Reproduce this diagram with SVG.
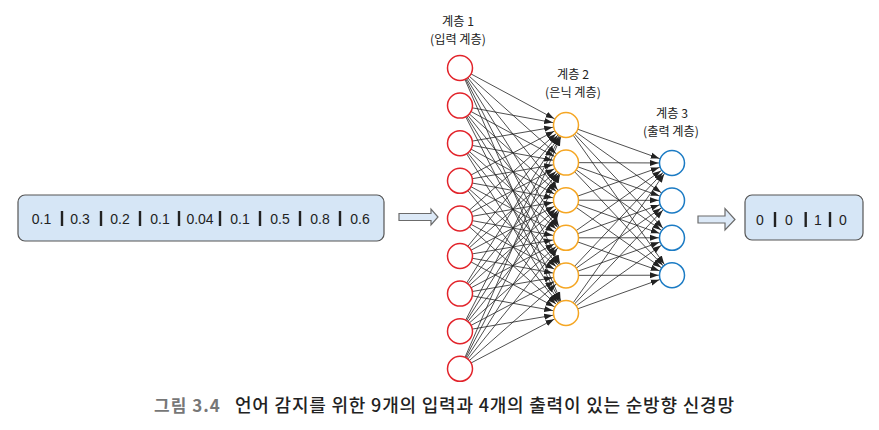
<svg xmlns="http://www.w3.org/2000/svg" width="879" height="430" viewBox="0 0 879 430">
<style>
.lbl{font-family:"Noto Sans CJK KR","Noto Sans",sans-serif;font-size:12.2px;fill:#222;text-anchor:middle}
.num{font-family:"Liberation Sans","Noto Sans",sans-serif;font-size:14px;fill:#222;text-anchor:middle}
.bar{stroke:#222;stroke-width:2.4}
.box{fill:#d6e6f6;stroke:#555;stroke-width:1.2}
.blk{fill:#dce9f7;stroke:#6b6b6b;stroke-width:1.2}
.conn line{stroke:#222;stroke-width:0.8}
.n1{fill:#fff;stroke:#e2232a;stroke-width:1.5}
.n2{fill:#fff;stroke:#f5a623;stroke-width:1.5}
.n3{fill:#fff;stroke:#1b7bc4;stroke-width:1.5}
.cap1{font-family:"Noto Sans CJK KR",sans-serif;font-size:17px;font-weight:700;fill:#777;letter-spacing:1px}
.cap2{font-family:"Noto Sans CJK KR",sans-serif;font-size:18px;font-weight:500;fill:#222;letter-spacing:0.8px}
</style>
<defs>
<marker id="ah" markerUnits="userSpaceOnUse" viewBox="0 -5 22 10" refX="22" refY="0" markerWidth="22" markerHeight="10" orient="auto">
<path d="M0,-3 L8.5,0 L0,3 z" fill="#222"/>
</marker>
</defs>

<g id="input-box">
<rect class="box" x="18" y="195" width="366" height="46" rx="7"/>
<text class="num" x="41.5" y="224">0.1</text>
<line class="bar" x1="62" y1="211" x2="62" y2="226"/>
<text class="num" x="80" y="224">0.3</text>
<line class="bar" x1="101" y1="211" x2="101" y2="226"/>
<text class="num" x="120" y="224">0.2</text>
<line class="bar" x1="140" y1="211" x2="140" y2="226"/>
<text class="num" x="160" y="224">0.1</text>
<line class="bar" x1="179" y1="211" x2="179" y2="226"/>
<text class="num" x="200" y="224">0.04</text>
<line class="bar" x1="220" y1="211" x2="220" y2="226"/>
<text class="num" x="240" y="224">0.1</text>
<line class="bar" x1="260" y1="211" x2="260" y2="226"/>
<text class="num" x="280" y="224">0.5</text>
<line class="bar" x1="300" y1="211" x2="300" y2="226"/>
<text class="num" x="320" y="224">0.8</text>
<line class="bar" x1="340" y1="211" x2="340" y2="226"/>
<text class="num" x="360" y="224">0.6</text>
</g>

<g id="arrow-in">
<path class="blk" d="M399,213.5 H431 V209 L438,217 L431,225 V220.5 H399 Z"/>
</g>

<g id="output-box">
<rect class="box" x="745" y="195" width="118" height="45" rx="7"/>
<text class="num" x="760" y="224.5">0</text>
<line class="bar" x1="775" y1="212" x2="775" y2="227"/>
<text class="num" x="789" y="224.5">0</text>
<line class="bar" x1="805.7" y1="212" x2="805.7" y2="227"/>
<text class="num" x="818" y="224.5">1</text>
<line class="bar" x1="830" y1="212" x2="830" y2="227"/>
<text class="num" x="843" y="224.5">0</text>
</g>

<g id="arrow-out">
<path class="blk" d="M698,216 H725 V208.5 L735,219.5 L725,230 V223 H698 Z"/>
</g>

<g id="labels">
<text class="lbl" x="458" y="25.5">계층 1<tspan x="458" dy="18">(입력 계층)</tspan></text>
<text class="lbl" x="573" y="78.5">계층 2<tspan x="573" dy="18">(은닉 계층)</tspan></text>
<text class="lbl" x="672" y="117.5">계층 3<tspan x="671" dy="18">(출력 계층)</tspan></text>
</g>

<g id="connectors" class="conn">
<line x1="460" y1="68" x2="566" y2="125" marker-end="url(#ah)"/>
<line x1="460" y1="68" x2="566" y2="162.6" marker-end="url(#ah)"/>
<line x1="460" y1="68" x2="566" y2="200.2" marker-end="url(#ah)"/>
<line x1="460" y1="68" x2="566" y2="237.8" marker-end="url(#ah)"/>
<line x1="460" y1="68" x2="566" y2="275.4" marker-end="url(#ah)"/>
<line x1="460" y1="68" x2="566" y2="313" marker-end="url(#ah)"/>
<line x1="460" y1="105.6" x2="566" y2="125" marker-end="url(#ah)"/>
<line x1="460" y1="105.6" x2="566" y2="162.6" marker-end="url(#ah)"/>
<line x1="460" y1="105.6" x2="566" y2="200.2" marker-end="url(#ah)"/>
<line x1="460" y1="105.6" x2="566" y2="237.8" marker-end="url(#ah)"/>
<line x1="460" y1="105.6" x2="566" y2="275.4" marker-end="url(#ah)"/>
<line x1="460" y1="105.6" x2="566" y2="313" marker-end="url(#ah)"/>
<line x1="460" y1="143.2" x2="566" y2="125" marker-end="url(#ah)"/>
<line x1="460" y1="143.2" x2="566" y2="162.6" marker-end="url(#ah)"/>
<line x1="460" y1="143.2" x2="566" y2="200.2" marker-end="url(#ah)"/>
<line x1="460" y1="143.2" x2="566" y2="237.8" marker-end="url(#ah)"/>
<line x1="460" y1="143.2" x2="566" y2="275.4" marker-end="url(#ah)"/>
<line x1="460" y1="143.2" x2="566" y2="313" marker-end="url(#ah)"/>
<line x1="460" y1="180.8" x2="566" y2="125" marker-end="url(#ah)"/>
<line x1="460" y1="180.8" x2="566" y2="162.6" marker-end="url(#ah)"/>
<line x1="460" y1="180.8" x2="566" y2="200.2" marker-end="url(#ah)"/>
<line x1="460" y1="180.8" x2="566" y2="237.8" marker-end="url(#ah)"/>
<line x1="460" y1="180.8" x2="566" y2="275.4" marker-end="url(#ah)"/>
<line x1="460" y1="180.8" x2="566" y2="313" marker-end="url(#ah)"/>
<line x1="460" y1="218.4" x2="566" y2="125" marker-end="url(#ah)"/>
<line x1="460" y1="218.4" x2="566" y2="162.6" marker-end="url(#ah)"/>
<line x1="460" y1="218.4" x2="566" y2="200.2" marker-end="url(#ah)"/>
<line x1="460" y1="218.4" x2="566" y2="237.8" marker-end="url(#ah)"/>
<line x1="460" y1="218.4" x2="566" y2="275.4" marker-end="url(#ah)"/>
<line x1="460" y1="218.4" x2="566" y2="313" marker-end="url(#ah)"/>
<line x1="460" y1="256" x2="566" y2="125" marker-end="url(#ah)"/>
<line x1="460" y1="256" x2="566" y2="162.6" marker-end="url(#ah)"/>
<line x1="460" y1="256" x2="566" y2="200.2" marker-end="url(#ah)"/>
<line x1="460" y1="256" x2="566" y2="237.8" marker-end="url(#ah)"/>
<line x1="460" y1="256" x2="566" y2="275.4" marker-end="url(#ah)"/>
<line x1="460" y1="256" x2="566" y2="313" marker-end="url(#ah)"/>
<line x1="460" y1="293.6" x2="566" y2="125" marker-end="url(#ah)"/>
<line x1="460" y1="293.6" x2="566" y2="162.6" marker-end="url(#ah)"/>
<line x1="460" y1="293.6" x2="566" y2="200.2" marker-end="url(#ah)"/>
<line x1="460" y1="293.6" x2="566" y2="237.8" marker-end="url(#ah)"/>
<line x1="460" y1="293.6" x2="566" y2="275.4" marker-end="url(#ah)"/>
<line x1="460" y1="293.6" x2="566" y2="313" marker-end="url(#ah)"/>
<line x1="460" y1="331.2" x2="566" y2="125" marker-end="url(#ah)"/>
<line x1="460" y1="331.2" x2="566" y2="162.6" marker-end="url(#ah)"/>
<line x1="460" y1="331.2" x2="566" y2="200.2" marker-end="url(#ah)"/>
<line x1="460" y1="331.2" x2="566" y2="237.8" marker-end="url(#ah)"/>
<line x1="460" y1="331.2" x2="566" y2="275.4" marker-end="url(#ah)"/>
<line x1="460" y1="331.2" x2="566" y2="313" marker-end="url(#ah)"/>
<line x1="460" y1="368.8" x2="566" y2="125" marker-end="url(#ah)"/>
<line x1="460" y1="368.8" x2="566" y2="162.6" marker-end="url(#ah)"/>
<line x1="460" y1="368.8" x2="566" y2="200.2" marker-end="url(#ah)"/>
<line x1="460" y1="368.8" x2="566" y2="237.8" marker-end="url(#ah)"/>
<line x1="460" y1="368.8" x2="566" y2="275.4" marker-end="url(#ah)"/>
<line x1="460" y1="368.8" x2="566" y2="313" marker-end="url(#ah)"/>
<line x1="566" y1="125" x2="672" y2="163" marker-end="url(#ah)"/>
<line x1="566" y1="125" x2="672" y2="200.4" marker-end="url(#ah)"/>
<line x1="566" y1="125" x2="672" y2="237.8" marker-end="url(#ah)"/>
<line x1="566" y1="125" x2="672" y2="275.2" marker-end="url(#ah)"/>
<line x1="566" y1="162.6" x2="672" y2="163" marker-end="url(#ah)"/>
<line x1="566" y1="162.6" x2="672" y2="200.4" marker-end="url(#ah)"/>
<line x1="566" y1="162.6" x2="672" y2="237.8" marker-end="url(#ah)"/>
<line x1="566" y1="162.6" x2="672" y2="275.2" marker-end="url(#ah)"/>
<line x1="566" y1="200.2" x2="672" y2="163" marker-end="url(#ah)"/>
<line x1="566" y1="200.2" x2="672" y2="200.4" marker-end="url(#ah)"/>
<line x1="566" y1="200.2" x2="672" y2="237.8" marker-end="url(#ah)"/>
<line x1="566" y1="200.2" x2="672" y2="275.2" marker-end="url(#ah)"/>
<line x1="566" y1="237.8" x2="672" y2="163" marker-end="url(#ah)"/>
<line x1="566" y1="237.8" x2="672" y2="200.4" marker-end="url(#ah)"/>
<line x1="566" y1="237.8" x2="672" y2="237.8" marker-end="url(#ah)"/>
<line x1="566" y1="237.8" x2="672" y2="275.2" marker-end="url(#ah)"/>
<line x1="566" y1="275.4" x2="672" y2="163" marker-end="url(#ah)"/>
<line x1="566" y1="275.4" x2="672" y2="200.4" marker-end="url(#ah)"/>
<line x1="566" y1="275.4" x2="672" y2="237.8" marker-end="url(#ah)"/>
<line x1="566" y1="275.4" x2="672" y2="275.2" marker-end="url(#ah)"/>
<line x1="566" y1="313" x2="672" y2="163" marker-end="url(#ah)"/>
<line x1="566" y1="313" x2="672" y2="200.4" marker-end="url(#ah)"/>
<line x1="566" y1="313" x2="672" y2="237.8" marker-end="url(#ah)"/>
<line x1="566" y1="313" x2="672" y2="275.2" marker-end="url(#ah)"/>
</g>

<g id="l1n1"><circle class="n1" cx="460" cy="68" r="12.5"/></g>
<g id="l1n2"><circle class="n1" cx="460" cy="105.6" r="12.5"/></g>
<g id="l1n3"><circle class="n1" cx="460" cy="143.2" r="12.5"/></g>
<g id="l1n4"><circle class="n1" cx="460" cy="180.8" r="12.5"/></g>
<g id="l1n5"><circle class="n1" cx="460" cy="218.4" r="12.5"/></g>
<g id="l1n6"><circle class="n1" cx="460" cy="256" r="12.5"/></g>
<g id="l1n7"><circle class="n1" cx="460" cy="293.6" r="12.5"/></g>
<g id="l1n8"><circle class="n1" cx="460" cy="331.2" r="12.5"/></g>
<g id="l1n9"><circle class="n1" cx="460" cy="368.8" r="12.5"/></g>

<g id="l2n1"><circle class="n2" cx="566" cy="125" r="12.5"/></g>
<g id="l2n2"><circle class="n2" cx="566" cy="162.6" r="12.5"/></g>
<g id="l2n3"><circle class="n2" cx="566" cy="200.2" r="12.5"/></g>
<g id="l2n4"><circle class="n2" cx="566" cy="237.8" r="12.5"/></g>
<g id="l2n5"><circle class="n2" cx="566" cy="275.4" r="12.5"/></g>
<g id="l2n6"><circle class="n2" cx="566" cy="313" r="12.5"/></g>

<g id="l3n1"><circle class="n3" cx="672" cy="163" r="12.5"/></g>
<g id="l3n2"><circle class="n3" cx="672" cy="200.4" r="12.5"/></g>
<g id="l3n3"><circle class="n3" cx="672" cy="237.8" r="12.5"/></g>
<g id="l3n4"><circle class="n3" cx="672" cy="275.2" r="12.5"/></g>

<g id="caption">
<text class="cap1" x="154" y="412">그림 3.4</text>
<text class="cap2" x="235" y="412">언어 감지를 위한 9개의 입력과 4개의 출력이 있는 순방향 신경망</text>
</g>
</svg>
